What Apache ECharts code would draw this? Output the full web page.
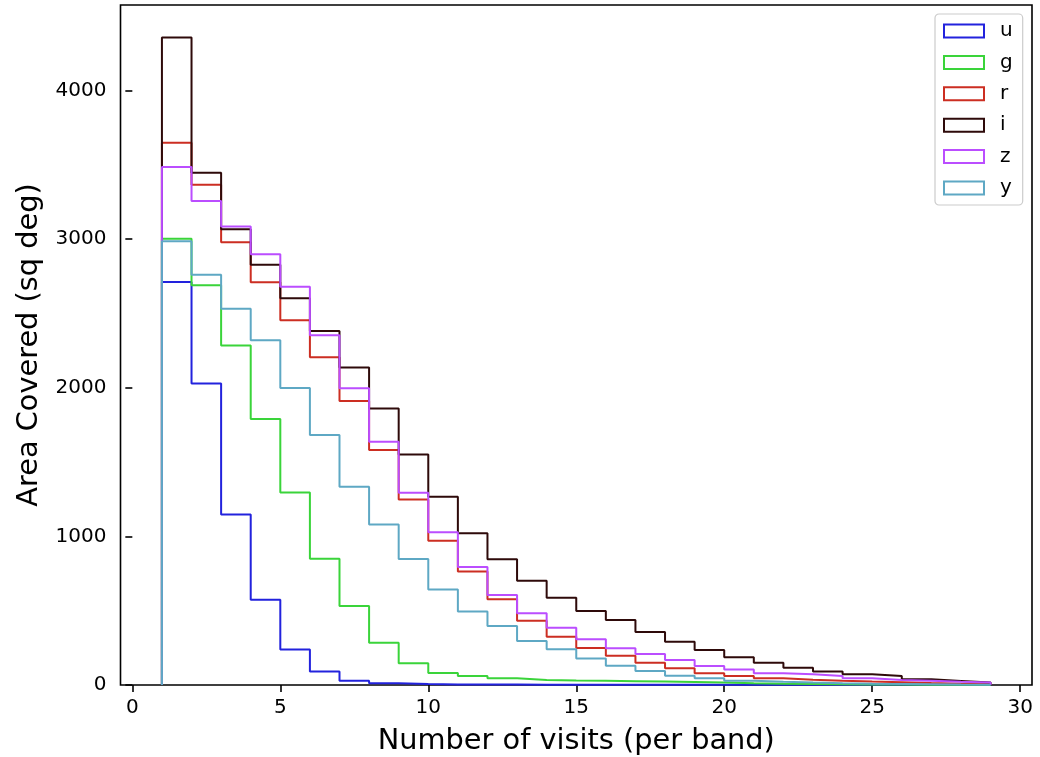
<!DOCTYPE html>
<html>
<head>
<meta charset="utf-8">
<script src="https://cdn.jsdelivr.net/npm/echarts@6/dist/echarts.min.js"></script>
<style>
  html, body { margin: 0; padding: 0; background: #ffffff; }
  #chart { width: 1040px; height: 757px; }
</style>
</head>
<body>
<div id="chart"></div>
<script>
// Bin edges (visits per band): 28 unit-wide bins from 1 to 29
const binEdges = [1, 2, 3, 4, 5, 6, 7, 8, 9, 10, 11, 12, 13, 14, 15, 16, 17, 18, 19, 20,
                  21, 22, 23, 24, 25, 26, 27, 28, 29];

// Area covered (sq deg) in each bin, one array per filter band
const uArea = [2710, 2028, 1147, 574, 238, 90, 29, 11, 6, 4, 3, 3, 2, 2, 2, 2, 2, 2, 2, 1,
               1, 1, 1, 1, 1, 1, 1, 1];
const gArea = [3001, 2689, 2284, 1790, 1295, 850, 531, 284, 146, 80, 60, 45, 34, 30, 28, 26,
               24, 20, 16, 12, 9, 7, 5, 4, 3, 2, 2, 1];
const rArea = [3648, 3364, 2978, 2709, 2454, 2204, 1910, 1580, 1248, 970, 763, 576, 432, 325,
               249, 197, 150, 112, 79, 60, 45, 36, 29, 23, 18, 13, 9, 6];
const iArea = [4356, 3445, 3066, 2826, 2602, 2381, 2136, 1860, 1551, 1266, 1020, 845, 701, 587,
               497, 437, 356, 291, 235, 186, 150, 116, 90, 72, 60, 38, 27, 16];
const zArea = [3485, 3256, 3084, 2897, 2678, 2352, 1996, 1636, 1293, 1028, 793, 605, 482, 385,
               307, 248, 208, 168, 128, 105, 79, 72, 60, 45, 34, 29, 22, 16];
const yArea = [2985, 2759, 2530, 2319, 1998, 1682, 1333, 1080, 847, 643, 495, 397, 296, 240,
               179, 129, 95, 63, 45, 29, 22, 16, 12, 9, 7, 5, 3, 2];

const bandNames = ['u', 'g', 'r', 'i', 'z', 'y'];
const bandColors = ['#2222dd', '#3ad43a', '#cc2e22', '#2e0a0a', '#bb4dff', '#5ea8c4'];
const bandAreas = [uArea, gArea, rArea, iArea, zArea, yArea];

const xTicks = [0, 5, 10, 15, 20, 25, 30];
const yTicks = [0, 1000, 2000, 3000, 4000];

// Outline of a step histogram: rise at the first edge, flat top over each bin, drop at the last edge
function stepOutline(edges, counts) {
  const pts = [[edges[0], 0]];
  counts.forEach((v, k) => pts.push([edges[k], v]));
  pts.push([edges[edges.length - 1], 0]);
  return pts;
}

const lo = binEdges[0], hi = binEdges[binEdges.length - 1];
const pad = (hi - lo) * 0.05;
const yTop = Math.max(...bandAreas.map(a => Math.max(...a))) * 1.05;

const chart = echarts.init(document.getElementById('chart'), null, { renderer: 'canvas' });

chart.setOption({
  animation: false,
  backgroundColor: '#ffffff',
  textStyle: { fontFamily: 'DejaVu Sans' },
  grid: {
    left: 120.5, right: 8, top: 5, bottom: 72,
    outerBoundsMode: 'none',
    containLabel: false,
    show: true, borderColor: '#000', borderWidth: 1.6, backgroundColor: 'transparent'
  },
  legend: {
    orient: 'vertical',
    left: 935, top: 14,
    padding: [7, 10, 7, 8],
    itemWidth: 40, itemHeight: 13, itemGap: 11.4,
    icon: 'rect',
    backgroundColor: 'rgba(255,255,255,0.8)',
    borderColor: '#cccccc', borderWidth: 1.2, borderRadius: 4,
    textStyle: { fontFamily: 'DejaVu Sans', fontSize: 20, color: '#000', lineHeight: 20, padding: [0, 0, 0, 11] },
    data: bandNames.map((n, k) => ({
      name: n,
      itemStyle: { color: 'rgba(255,255,255,0)', borderColor: bandColors[k], borderWidth: 2 }
    }))
  },
  xAxis: {
    type: 'value',
    min: lo - pad, max: hi + pad,
    name: 'Number of visits (per band)',
    nameLocation: 'middle', nameGap: 42,
    nameTextStyle: { fontFamily: 'DejaVu Sans', fontSize: 28.8, color: '#000' },
    axisLine: { show: false },
    axisTick: { show: true, length: 7, lineStyle: { color: '#000', width: 1.6 }, customValues: xTicks },
    axisLabel: { fontFamily: 'DejaVu Sans', fontSize: 20, color: '#000', margin: 13,
                 customValues: xTicks, formatter: v => String(v) },
    splitLine: { show: false }
  },
  yAxis: {
    type: 'value',
    min: 0, max: yTop,
    name: 'Area Covered (sq deg)',
    nameLocation: 'middle', nameGap: 76, nameRotate: 90,
    nameTextStyle: { fontFamily: 'DejaVu Sans', fontSize: 28.8, color: '#000' },
    axisLine: { show: false },
    axisTick: { show: true, length: 7, lineStyle: { color: '#000', width: 1.6 }, customValues: yTicks },
    axisLabel: { fontFamily: 'DejaVu Sans', fontSize: 20, color: '#000', margin: 14,
                 customValues: yTicks, formatter: v => String(v) },
    splitLine: { show: false }
  },
  series: bandNames.map((n, k) => ({
    name: n,
    type: 'line',
    step: 'end',
    symbol: 'none',
    showSymbol: false,
    color: bandColors[k],
    lineStyle: { color: bandColors[k], width: 2 },
    data: stepOutline(binEdges, bandAreas[k])
  }))
});
</script>
</body>
</html>
